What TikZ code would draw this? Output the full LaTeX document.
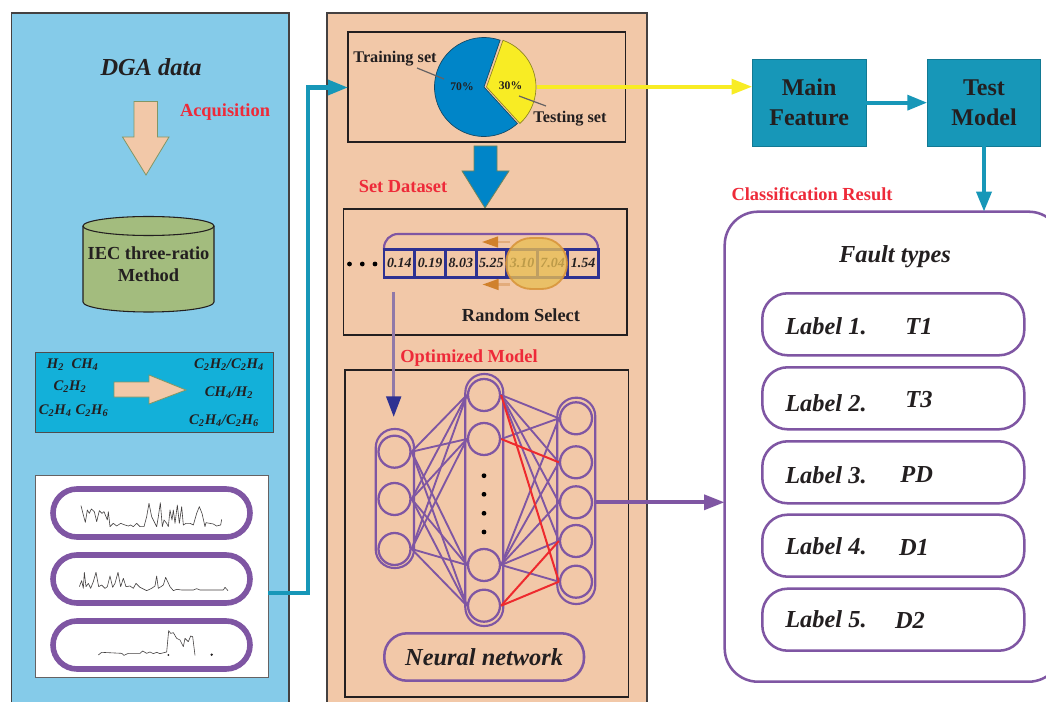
\documentclass[tikz,border=0pt]{standalone}
\usepackage{fontspec}
\setmainfont{Liberation Serif}
\usetikzlibrary{arrows.meta}
\definecolor{panelblue}{HTML}{85CBE9}
\definecolor{panelpeach}{HTML}{F2C8A8}
\definecolor{cylgreen}{HTML}{A3BC7E}
\definecolor{gasblue}{HTML}{13B0D9}
\definecolor{tealc}{HTML}{1797B8}
\definecolor{purp}{HTML}{7F56A3}
\definecolor{navyc}{HTML}{2E3192}
\definecolor{redt}{HTML}{EE2A39}
\definecolor{redl}{HTML}{EE2A2E}
\definecolor{pieblue}{HTML}{0085C8}
\definecolor{pieyel}{HTML}{F8EC24}
\definecolor{ink}{HTML}{231F20}
\definecolor{orangec}{HTML}{D0812C}
\definecolor{orangel}{HTML}{E3AC7C}
\definecolor{mutedp}{HTML}{9079A8}
\definecolor{goldc}{HTML}{E8BE55}
\newcommand{\pxbox}[7]{\node[#2,inner sep=0pt,outer sep=0pt,minimum width={(#5-#3)*0.75pt},minimum height={(#6-#4)*0.75pt}] (#1) at ({(#3+#5)/2},{(#4+#6)/2}) {#7};}
\newcommand{\sub}[1]{\textsubscript{#1}}
\tikzset{
  panel/.style={draw=ink!85,line width=0.9pt},
  blackbox/.style={draw=ink,line width=0.85pt},
  tealbox/.style={fill=tealc,draw=tealc!80!black,line width=0.5pt,text=ink,align=center,font=\fontsize{18}{22.5}\selectfont\bfseries},
  redlabel/.style={text=redt,font=\fontsize{13.8}{16}\selectfont\bfseries,inner sep=0pt},
  plainbold/.style={text=ink,font=\fontsize{13.8}{16.5}\selectfont\bfseries,inner sep=0pt,align=center},
  bigital/.style={text=ink,font=\fontsize{18.3}{20}\selectfont\bfseries\itshape,inner sep=0pt},
  gas/.style={text=ink,font=\fontsize{11}{13}\selectfont\bfseries\itshape,inner sep=0pt},
  cellnum/.style={text=ink,font=\fontsize{10.5}{12}\selectfont\bfseries\itshape,inner sep=0pt},
  cellbox/.style={draw=navyc,line width=2.2pt,minimum width=23pt,minimum height=21pt,inner sep=0pt},
  pct/.style={text=ink,font=\fontsize{8.75}{10}\selectfont\bfseries,inner sep=0pt},
  setlabel/.style={text=ink,font=\fontsize{12.2}{14}\selectfont\bfseries,inner sep=0pt},
  wavebox/.style={draw=purp,line width=4.2pt,fill=white,rounded corners=18pt},
  labelbox/.style={draw=purp,line width=1.9pt,fill=white,rounded corners=19pt},
  neuron/.style={circle,draw=purp,line width=1.7pt,minimum size=24pt,inner sep=0pt},
  capsule/.style={draw=purp,line width=1.6pt},
  nnedge/.style={draw=purp,line width=1.4pt},
  nnred/.style={draw=redl,line width=1.5pt},
  fatarrow/.style={fill=panelpeach,draw=cylgreen!80!black,line width=0.6pt},
  wave/.style={draw=ink!85,line width=0.45pt,line join=round},
  leader/.style={draw=ink!70,line width=0.9pt},
  yellowconn/.style={draw=pieyel,line width=3.2pt,-{Triangle[length=15.5pt,width=11pt]}},
  tealconn/.style={draw=tealc,line width=3.2pt,-{Triangle[length=15pt,width=11pt]}},
  purpconn/.style={draw=purp,line width=3.2pt,-{Triangle[length=15.5pt,width=11pt]}},
  dotc/.style={circle,fill=black,minimum size=3.6pt,inner sep=0pt},
}
\begin{document}
\begin{tikzpicture}[x=0.75pt,y=-0.75pt]
\useasboundingbox (0,0) rectangle (1046,702);
\clip (0,0) rectangle (1046,702);
\fill[white] (0,0) rectangle (1046,702);

% ---- panels
\pxbox{leftp}{panel,fill=panelblue}{11.5}{13}{289}{712}{}
\pxbox{midp}{panel,fill=panelpeach}{327}{13}{647}{712}{}

% ---- left panel
\node[bigital] (dga) at (151,67) {DGA data};
\node[redlabel] (acq) at (225,112.5) {Acquisition};
\draw[fatarrow] (134,101.5) -- (157.5,101.5) -- (157.5,137) -- (169,137) -- (146,175) -- (122.5,137) -- (134,137) -- cycle;
\draw[fill=cylgreen,draw=ink,line width=0.8pt] (83,226) -- (83,302) arc[start angle=180,end angle=0,x radius=65.5,y radius=10] -- (214,226);
\draw[fill=cylgreen,draw=ink,line width=0.8pt] (148.5,226) ellipse[x radius=65.5,y radius=9.5];
\node[plainbold] (iec) at (148.5,264.5) {IEC three-ratio\\[-0.3pt]Method};

\pxbox{gasb}{draw=ink!80,line width=0.6pt,fill=gasblue}{35}{352.5}{273}{432}{}
\node[gas] (g1) at (55.5,364.5) {H\sub{2}};
\node[gas] (g2) at (85,364.5) {CH\sub{4}};
\node[gas] (g3) at (70,387) {C\sub{2}H\sub{2}};
\node[gas] (g4) at (55.3,411) {C\sub{2}H\sub{4}};
\node[gas] (g5) at (92,411) {C\sub{2}H\sub{6}};
\node[gas] (g6) at (229,365) {C\sub{2}H\sub{2}/C\sub{2}H\sub{4}};
\node[gas] (g7) at (229,392.5) {CH\sub{4}/H\sub{2}};
\node[gas] (g8) at (224,420.5) {C\sub{2}H\sub{4}/C\sub{2}H\sub{6}};
\draw[fatarrow] (114,382) -- (149,382) -- (149,375) -- (186,390) -- (149,404) -- (149,397) -- (114,397) -- cycle;

\pxbox{whiteb}{draw=ink!70,line width=0.7pt,fill=white}{35}{475}{268}{677}{}
\pxbox{w1}{wavebox}{53}{489}{250}{537}{}
\pxbox{w2}{wavebox}{53}{555}{250}{603}{}
\pxbox{w3}{wavebox}{53}{621}{250}{669}{}
\begin{scope}[shift={(0,340)},x=0.25pt,y=-0.25pt]
\draw[wave] plot coordinates {(243,497) (250,525) (256,547) (262,510) (268,520) (274,507) (283,515) (290,545) (298,512) (306,520) (312,515) (322,540) (325,515) (330,560) (340,550) (350,558) (362,550) (375,555) (385,558) (392,555) (400,560) (410,550) (420,560) (432,560) (440,530) (447,490) (455,530) (470,560) (475,530) (481,488) (487,560) (492,540) (500,550) (505,560) (510,510) (516,540) (520,510) (525,550) (532,495) (538,550) (545,500) (550,555) (558,550) (570,550) (580,555) (590,520) (598,500) (606,520) (615,560) (618,548) (640,552) (650,558) (662,555) (665,538)};
\draw[wave] plot coordinates {(238,740) (245,722) (250,745) (253,697) (258,740) (265,730) (272,745) (280,725) (288,697) (296,740) (305,735) (315,745) (322,740) (330,708) (338,742) (345,730) (354,697) (362,740) (370,715) (378,740) (390,738) (400,745) (408,730) (420,742) (440,752) (455,745) (465,738) (470,708) (475,745) (483,740) (490,735) (497,712) (510,740) (520,752) (530,748) (545,750) (565,750) (580,750) (590,746) (600,750) (620,750) (650,750) (670,750) (675,742) (684,752)};
\draw[wave] plot coordinates {(295,945) (305,937) (365,940) (372,946) (385,940) (420,940) (428,933) (440,940) (450,936) (460,941) (470,937) (480,941) (500,936) (506,872) (512,880) (520,878) (530,895) (540,900) (550,920) (555,895) (565,905) (572,888) (578,890) (585,946)};
\fill[ink] (505,945) circle[radius=3];
\fill[ink] (635,944) circle[radius=4];
\end{scope}

% ---- middle panel: split box
\pxbox{splitb}{blackbox}{348}{32}{625.5}{142}{}
\draw[fill=pieblue,draw=ink!60!pieblue,line width=0.5pt] (484,87) -- (500.1,40.2) arc[start angle=-71,end angle=-312.5,radius=49.5] -- cycle;
\draw[fill=pieyel,draw=ink!50!pieyel,line width=0.5pt] (486.5,87) -- (503,40.3) arc[start angle=-70.5,end angle=47.5,radius=49.5] -- cycle;
\node[setlabel] (trainl) at (395,58.5) {Training set};
\node[setlabel] (testl) at (570,119) {Testing set};
\node[pct] (p70) at (462,87) {70\%};
\node[pct] (p30) at (510.5,86) {30\%};
\coordinate (tr1) at (417,68);
\coordinate (tr2) at (444,79);
\coordinate (te1) at (519,96);
\coordinate (te2) at (546,106);
\draw[leader] (tr1) -- (tr2);
\draw[leader] (te1) -- (te2);
\draw[fill=pieblue,draw=cylgreen!70!black,line width=0.6pt] (474,146) -- (497,146) -- (497,171) -- (509,171) -- (485,208) -- (462,171) -- (474,171) -- cycle;
\node[redlabel] (setd) at (403,187) {Set Dataset};

% ---- random-select box
\pxbox{selb}{blackbox}{343.5}{209}{627}{335}{}
\draw[draw=purp,line width=1.6pt] (384,250) -- (384,248) arc[start angle=180,end angle=270,radius=14] -- (584,234) arc[start angle=-90,end angle=0,radius=14] -- (598,250);
\foreach \i/\x/\v in {1/399.3/0.14,2/430.0/0.19,3/460.8/8.03,4/491.3/5.25,5/522/3.10,6/552.5/7.04,7/583/1.54}{
  \node[cellbox] (c\i) at (\x,263.3) {};
  \node[cellnum] (v\i) at (\x,263.3) {\v};
}
\foreach \i/\x in {1/349.5,2/362.3,3/375}{\node[dotc] (d\i) at (\x,264) {};}
\coordinate (oa1) at (510,242);
\coordinate (oa2) at (482,242);
\coordinate (ob1) at (510,284.5);
\coordinate (ob2) at (482.5,284.5);
\draw[draw=orangel,line width=1.6pt,-{Triangle[length=12pt,width=8pt,color=orangec]}] (oa1) -- (oa2);
\draw[draw=orangel,line width=1.6pt,-{Triangle[length=12pt,width=8pt,color=orangec]}] (ob1) -- (ob2);
\pxbox{hl}{fill=goldc,fill opacity=0.78,draw=orangec!70!goldc,line width=1.4pt,draw opacity=0.85,rounded corners=19pt}{506}{238}{567}{289}{}
\node[redlabel,text=ink] (rsel) at (521,315) {Random Select};

% ---- network box
\node[redlabel] (optm) at (469,358.5) {Optimized Model};
\pxbox{netb}{blackbox}{345}{370}{628.5}{697}{}
\pxbox{capL}{capsule,rounded corners=14pt}{375.7}{429}{414}{568}{}
\pxbox{capM}{capsule,rounded corners=14pt}{465.3}{374}{503.3}{626}{}
\pxbox{capR}{capsule,rounded corners=14pt}{557.3}{397.7}{595.3}{604}{}
\foreach \i/\y in {1/451.7,2/499,3/549}{\node[neuron] (a\i) at (394.5,\y) {};}
\foreach \i/\y in {1/395,2/439,3/565,4/605.7}{\node[neuron] (b\i) at (484,\y) {};}
\foreach \i/\y in {1/418.3,2/462.3,3/502.3,4/541,5/581.7}{\node[neuron] (c\i n) at (576,\y) {};}
\foreach \i/\y in {1/475.7,2/494.3,3/513.3,4/532}{\node[dotc] (nd\i) at (484,\y) {};}
\foreach \i in {1,2,3}{\foreach \j in {1,2,3,4}{\draw[nnedge] (a\i.east) -- (b\j.west);}}
\foreach \j in {1,2,3,4}{\draw[nnedge] (b1.east) -- (c\j n.west);}
\draw[nnedge] (b2.east) -- (c1n.west);
\foreach \j in {1,2,3,4,5}{\draw[nnedge] (b3.east) -- (c\j n.west);}
\draw[nnred] (b1.east) -- (c5n.west);
\draw[nnred] (b2.east) -- (c2n.west);
\draw[nnred] (b4.east) -- (c4n.west);
\draw[nnred] (b4.east) -- (c5n.west);
\pxbox{nnl}{draw=purp,line width=1.9pt,rounded corners=17pt,text=ink,font=\fontsize{18.3}{20}\selectfont\bfseries\itshape}{384.3}{633.3}{584}{680.7}{Neural network}

% ---- right side
\pxbox{main}{tealbox}{752.3}{59.3}{866}{146}{Main\\Feature}
\pxbox{test}{tealbox}{927.3}{59.3}{1040.7}{146}{Test\\Model}
\node[redlabel] (clsr) at (812,194) {Classification Result};
\pxbox{fault}{draw=purp,line width=1.9pt,fill=white,rounded corners=25pt}{724.7}{211.7}{1062}{681.7}{}
\node[bigital] (ftyp) at (895,257) {Fault types};
\pxbox{l1}{labelbox}{762.3}{293.3}{1024.3}{355.3}{}
\pxbox{l2}{labelbox}{762.3}{367.3}{1024.3}{429.3}{}
\pxbox{l3}{labelbox}{762.3}{441.3}{1024.3}{503.3}{}
\pxbox{l4}{labelbox}{762.3}{514.7}{1024.3}{576.7}{}
\pxbox{l5}{labelbox}{762.3}{588.7}{1024.3}{650.7}{}
\foreach \i/\y in {1/326.7,2/403.3,3/475.7,4/546.7,5/619.3}{
  \node[bigital,anchor=west] (t\i) at (785,\y) {Label \i.};
}
\node[bigital] (v1t) at (919,326.7) {T1};
\node[bigital] (v2t) at (919,400) {T3};
\node[bigital] (v3t) at (916.7,475) {PD};
\node[bigital] (v4t) at (914,547) {D1};
\node[bigital] (v5t) at (910,620) {D2};

% ---- connectors
\coordinate (cellsout) at (393.7,292);
\coordinate (nnin) at (393.7,417);
\draw[draw=mutedp,line width=2.3pt,-{Triangle[length=15.5pt,width=11pt,color=navyc]}] (cellsout) -- (nnin);
\coordinate (teal0) at (268,592.7);
\coordinate (teal1) at (308,592.7);
\coordinate (teal2) at (308,87.5);
\coordinate (teal3) at (348,87.5);
\draw[tealconn,line join=miter] (teal0) -- (teal1) -- (teal2) -- (teal3);
\coordinate (pieR) at (537,86.7);
\draw[yellowconn] (pieR) -- (pieR -| main.west);
\draw[tealconn] (main.east) -- (test.west);
\draw[tealconn] (test.south) -- (test.south |- fault.north);
\coordinate (capOut) at (595.3,502.3);
\draw[purpconn] (capOut) -- (capOut -| fault.west);
\end{tikzpicture}
\end{document}
